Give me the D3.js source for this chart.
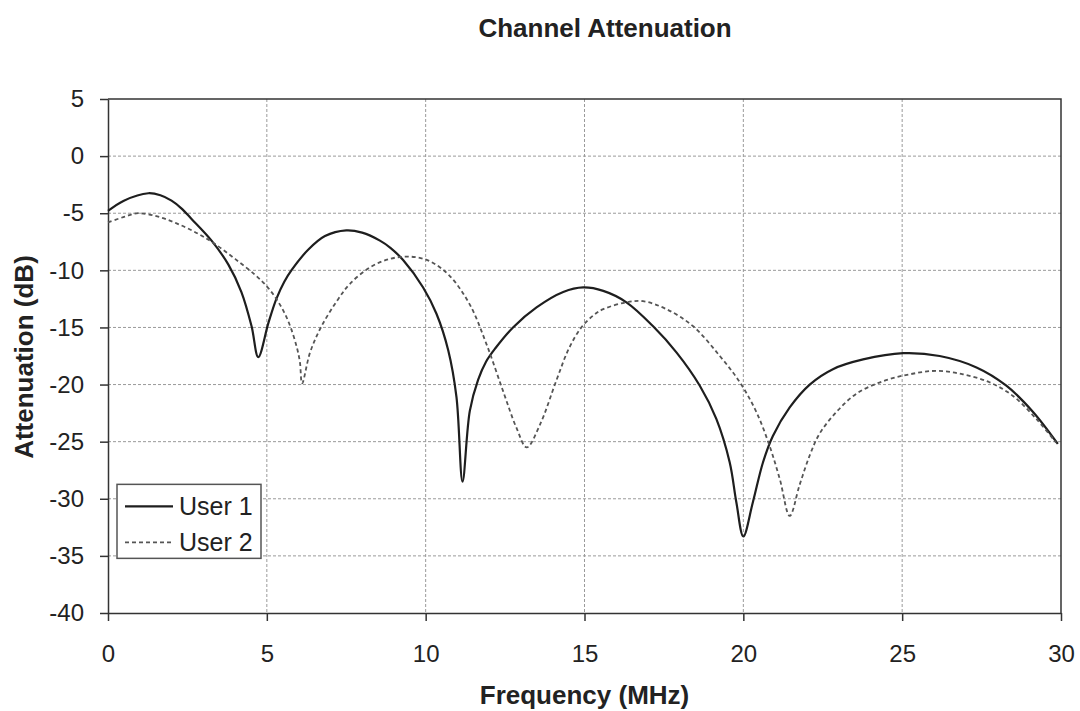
<!DOCTYPE html>
<html>
<head>
<meta charset="utf-8">
<script src="https://cdn.jsdelivr.net/npm/d3@7"></script>
<style>
  body { margin: 0; background: #fff; }
  text { font-family: "Liberation Sans", Arial, sans-serif; fill: #222; }
  .grid line { stroke: #9a9a9a; stroke-width: 1; stroke-dasharray: 3,2; }
  .axis path, .axis line { stroke: #333; stroke-width: 1.5; }
  .axis text { font-size: 24px; }
  .title { font-size: 26px; font-weight: bold; }
  .axis-title { font-size: 26px; font-weight: bold; }
</style>
</head>
<body>
<div class="container"></div>
<script>
var WIDTH = 1080, HEIGHT = 711;
var MARGIN = {top: 99, right: 19, bottom: 98, left: 108};
var INNER_WIDTH = WIDTH - MARGIN.left - MARGIN.right;
var INNER_HEIGHT = HEIGHT - MARGIN.top - MARGIN.bottom;

var seriesNames = ["User 1", "User 2"];
var xTicks = [0, 5, 10, 15, 20, 25, 30];
var yTicks = [5, 0, -5, -10, -15, -20, -25, -30, -35, -40];

var user1Freq = [0, 0.5, 1.27, 1.65, 2.0, 2.3, 2.63, 3.26, 3.79, 4.2, 4.52, 4.73, 5.05, 5.3, 5.55, 5.8, 6.3, 6.83, 7.5,
                 8.0, 8.56, 8.9, 9.29, 9.92, 10.34, 10.71, 10.97, 11.16, 11.39, 11.65, 11.9, 12.2, 12.75, 13.49, 14.33, 14.96,
                 15.59, 16.32, 17.16, 17.9, 18.63, 19.15, 19.57, 19.78, 20.0, 20.3, 20.62, 20.93, 21.46, 22.09,
                 22.82, 23.77, 25.03, 26.18, 27.34, 28.28, 29.12, 29.9];
var user1Atten = [-4.8, -3.9, -3.25, -3.43, -3.9, -4.55, -5.5, -7.4, -9.5, -11.9, -14.9, -17.6, -14.6, -12.5, -11.0, -9.9, -8.2, -7.0, -6.5,
                  -6.7, -7.4, -8.05, -9.1, -11.5, -13.8, -17.0, -21.1, -28.5, -22.3, -19.6, -18.0, -16.8, -15.0, -13.25, -11.9, -11.5,
                  -11.8, -12.8, -14.9, -17.2, -20.1, -23.0, -26.8, -30.3, -33.3, -30.3, -26.8, -24.5, -22.0, -20.0,
                  -18.65, -17.8, -17.25, -17.5, -18.5, -20.1, -22.4, -25.2];

var user2Freq = [0, 0.53, 0.95, 1.58, 2.21, 2.84, 3.37, 4.0, 4.63, 5.0, 5.3, 5.55, 5.75, 5.94, 6.04, 6.11, 6.36, 6.72, 7.25,
                 7.61, 8.24, 8.87, 9.5, 10.13, 10.76, 11.39, 11.92, 12.44, 12.86, 13.18, 13.6, 14.12, 14.5, 14.9,
                 15.3, 15.59, 16.32, 16.84, 17.58, 18.42, 19.26, 19.89, 20.41, 20.83, 21.15, 21.46, 21.77, 22.09, 22.4,
                 22.93, 23.56, 24.4, 25.24, 26.08, 26.91, 27.75, 28.49, 29.22, 29.85];
var user2Atten = [-5.8, -5.3, -5.0, -5.3, -5.95, -6.8, -7.7, -9.0, -10.4, -11.4, -12.5, -13.7, -15.0, -16.7, -18.0, -19.9, -17.2, -14.9, -12.5,
                  -11.2, -9.75, -9.0, -8.8, -9.2, -10.5, -13.0, -16.5, -20.6, -23.8, -25.5, -23.5, -19.6, -16.9, -15.0,
                  -13.9, -13.4, -12.8, -12.7, -13.4, -14.9, -17.5, -19.8, -22.4, -25.4, -28.3, -31.5, -28.8, -26.2, -24.3,
                  -22.4, -20.8, -19.7, -19.1, -18.8, -19.1, -19.8, -21.0, -23.0, -25.1];

var toPoints = function(xs, ys){
    return xs.map(function(x, i){ return {f: x, a: ys[i]}; });
};

var series = [
    {name: seriesNames[0], values: toPoints(user1Freq, user1Atten), color: "#1e1e1e", width: 2.2, dash: null},
    {name: seriesNames[1], values: toPoints(user2Freq, user2Atten), color: "#555", width: 1.8, dash: "4,3"}
];

var svg = d3.select('.container').append('svg')
            .attr('width', WIDTH)
            .attr('height', HEIGHT);

svg.append('rect').attr('width', WIDTH).attr('height', HEIGHT).attr('fill', '#fff');

var xScale = d3.scaleLinear().domain([0, 30]).range([0, INNER_WIDTH]);
var yScale = d3.scaleLinear().domain([-40, 5]).range([INNER_HEIGHT, 0]);

var g = svg.append('g')
           .attr('transform', 'translate(' + MARGIN.left + ',' + MARGIN.top + ')');

// grid
var grid = g.append('g').classed('grid', true);
grid.selectAll('line.h').data(yTicks.slice(1, -1)).enter().append('line')
    .attr('x1', 0).attr('x2', INNER_WIDTH)
    .attr('y1', function(d){ return yScale(d); })
    .attr('y2', function(d){ return yScale(d); });
grid.selectAll('line.v').data(xTicks.slice(1, -1)).enter().append('line')
    .attr('y1', 0).attr('y2', INNER_HEIGHT)
    .attr('x1', function(d){ return xScale(d); })
    .attr('x2', function(d){ return xScale(d); });

// axes (plain hyphen for negatives, like the original)
var plain = function(d){ return String(d); };
g.append('g').classed('axis', true)
    .attr('transform', 'translate(0,' + INNER_HEIGHT + ')')
    .call(d3.axisBottom(xScale).tickValues(xTicks).tickFormat(plain).tickSize(8).tickSizeOuter(0).tickPadding(24));
g.append('g').classed('axis', true)
    .call(d3.axisLeft(yScale).tickValues(yTicks).tickFormat(plain).tickSize(8).tickSizeOuter(0).tickPadding(16));

// frame top/right
g.append('path')
    .attr('d', 'M0,0H' + INNER_WIDTH + 'V' + INNER_HEIGHT)
    .attr('fill', 'none').attr('stroke', '#333').attr('stroke-width', 1.5);

// lines
var line = d3.line()
    .x(function(d){ return xScale(d.f); })
    .y(function(d){ return yScale(d.a); })
    .curve(d3.curveCatmullRom.alpha(0.5));

g.selectAll('path.series').data(series).enter().append('path')
    .classed('series', true)
    .attr('d', function(d){ return line(d.values); })
    .attr('fill', 'none')
    .attr('stroke', function(d){ return d.color; })
    .attr('stroke-width', function(d){ return d.width; })
    .attr('stroke-dasharray', function(d){ return d.dash; });

// legend
var legend = g.append('g').attr('transform', 'translate(9,' + (yScale(-29) - 3) + ')');
legend.append('rect')
    .attr('width', 144).attr('height', 74)
    .attr('fill', '#fff').attr('stroke', '#555').attr('stroke-width', 1.5);
var items = legend.selectAll('g.item').data(series).enter().append('g')
    .attr('transform', function(d, i){ return 'translate(0,' + (22 + i * 36) + ')'; });
items.append('line')
    .attr('x1', 8).attr('x2', 56)
    .attr('stroke', function(d){ return d.color; })
    .attr('stroke-width', function(d){ return d.width; })
    .attr('stroke-dasharray', function(d){ return d.dash; });
items.append('text')
    .attr('x', 62).attr('y', 9)
    .style('font-size', '25px')
    .text(function(d){ return d.name; });

// titles
svg.append('text').classed('title', true)
    .attr('x', 605).attr('y', 37)
    .attr('text-anchor', 'middle')
    .text('Channel Attenuation');
svg.append('text').classed('axis-title', true)
    .attr('x', MARGIN.left + INNER_WIDTH / 2).attr('y', 704)
    .attr('text-anchor', 'middle')
    .text('Frequency (MHz)');
svg.append('text').classed('axis-title', true)
    .attr('transform', 'translate(33,' + 357 + ') rotate(-90)')
    .attr('text-anchor', 'middle')
    .text('Attenuation (dB)');
</script>
</body>
</html>
